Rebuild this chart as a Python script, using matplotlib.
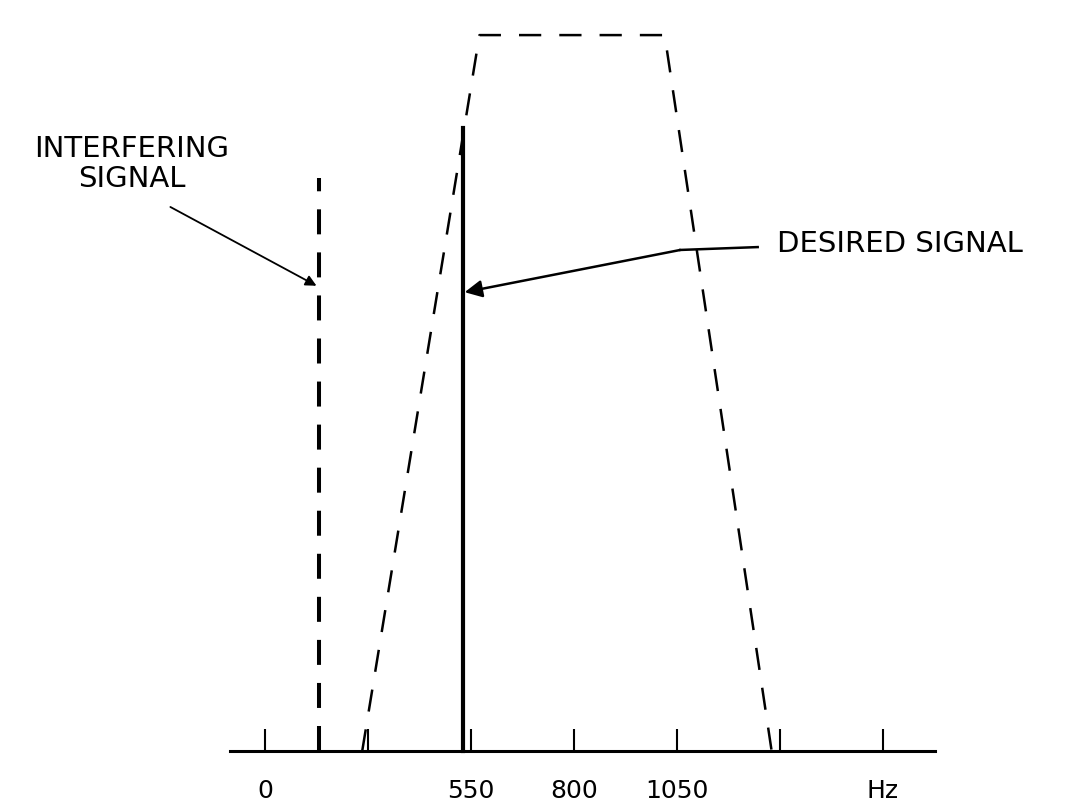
import matplotlib
matplotlib.use('Agg')
import matplotlib.pyplot as plt

# Frequency axis as drawn (schematic, labels are the original ones)
tick_freqs = [50, 300, 550, 800, 1050, 1300, 1550]
tick_labels = ['0', '', '550', '800', '1050', '', 'Hz']

# Bandpass filter response (dashed trapezoid)
filter_freqs = [285, 570, 1020, 1280]
filter_gain = [0.0, 1.0, 1.0, 0.0]

# Spectral lines
interferer_freq = 180
interferer_amp = 0.80
desired_freq = 530
desired_amp = 0.87

# Callout anchor points (freq, amplitude)
interferer_arrow_from = (-181, 0.76)
interferer_arrow_to = (174, 0.65)
desired_leader = [(1246, 0.704), (1058, 0.700)]
desired_arrow_to = (534, 0.641)

plt.rcParams['lines.scale_dashes'] = False
plt.rcParams['font.family'] = ['DejaVu Sans']

fig = plt.figure(figsize=(10.68, 8.05), dpi=100)
ax = fig.add_axes([0, 0, 1, 1])
ax.set_xlim(-595, 2000)
ax.set_ylim(-0.075, 1.049)

# axis: only a baseline with inward ticks
for side in ['top', 'left', 'right']:
    ax.spines[side].set_visible(False)
ax.spines['bottom'].set_position(('data', 0))
ax.spines['bottom'].set_bounds(-35, 1678)
ax.spines['bottom'].set_linewidth(2.2)
ax.set_yticks([])
ax.set_xticks(tick_freqs)
ax.set_xticklabels(tick_labels)
ax.tick_params(axis='x', direction='in', length=16, width=1.5, pad=20,
               labelsize=18, colors='black')
ax.patch.set_alpha(0)

# filter response
ax.plot(filter_freqs, filter_gain, color='black', lw=1.8,
        linestyle=(0, (16, 13)), solid_capstyle='butt')

# interfering signal (dashed) and desired signal (solid)
ax.plot([interferer_freq, interferer_freq], [0, interferer_amp], color='black',
        lw=2.9, linestyle=(0, (18, 13)))
ax.plot([desired_freq, desired_freq], [0, desired_amp], color='black', lw=3.0)

# callouts
ax.annotate('', xy=interferer_arrow_to, xytext=interferer_arrow_from,
            arrowprops=dict(arrowstyle='-|>', color='black', lw=1.3,
                            mutation_scale=16, shrinkA=0, shrinkB=0))
lx, ly = zip(*desired_leader)
ax.plot(lx, ly, color='black', lw=1.8)
ax.annotate('', xy=desired_arrow_to, xytext=desired_leader[-1],
            arrowprops=dict(arrowstyle='-|>', color='black', lw=1.8,
                            mutation_scale=26, shrinkA=0, shrinkB=0))

fig.text(132 / 1068, 1 - 164 / 805, 'INTERFERING\nSIGNAL', ha='center', va='center',
         fontsize=21, linespacing=1.1, multialignment='center')
fig.text(777 / 1068, 1 - 244 / 805, 'DESIRED SIGNAL', ha='left', va='center',
         fontsize=21)

fig.savefig('out.png', dpi=100, facecolor='white')
